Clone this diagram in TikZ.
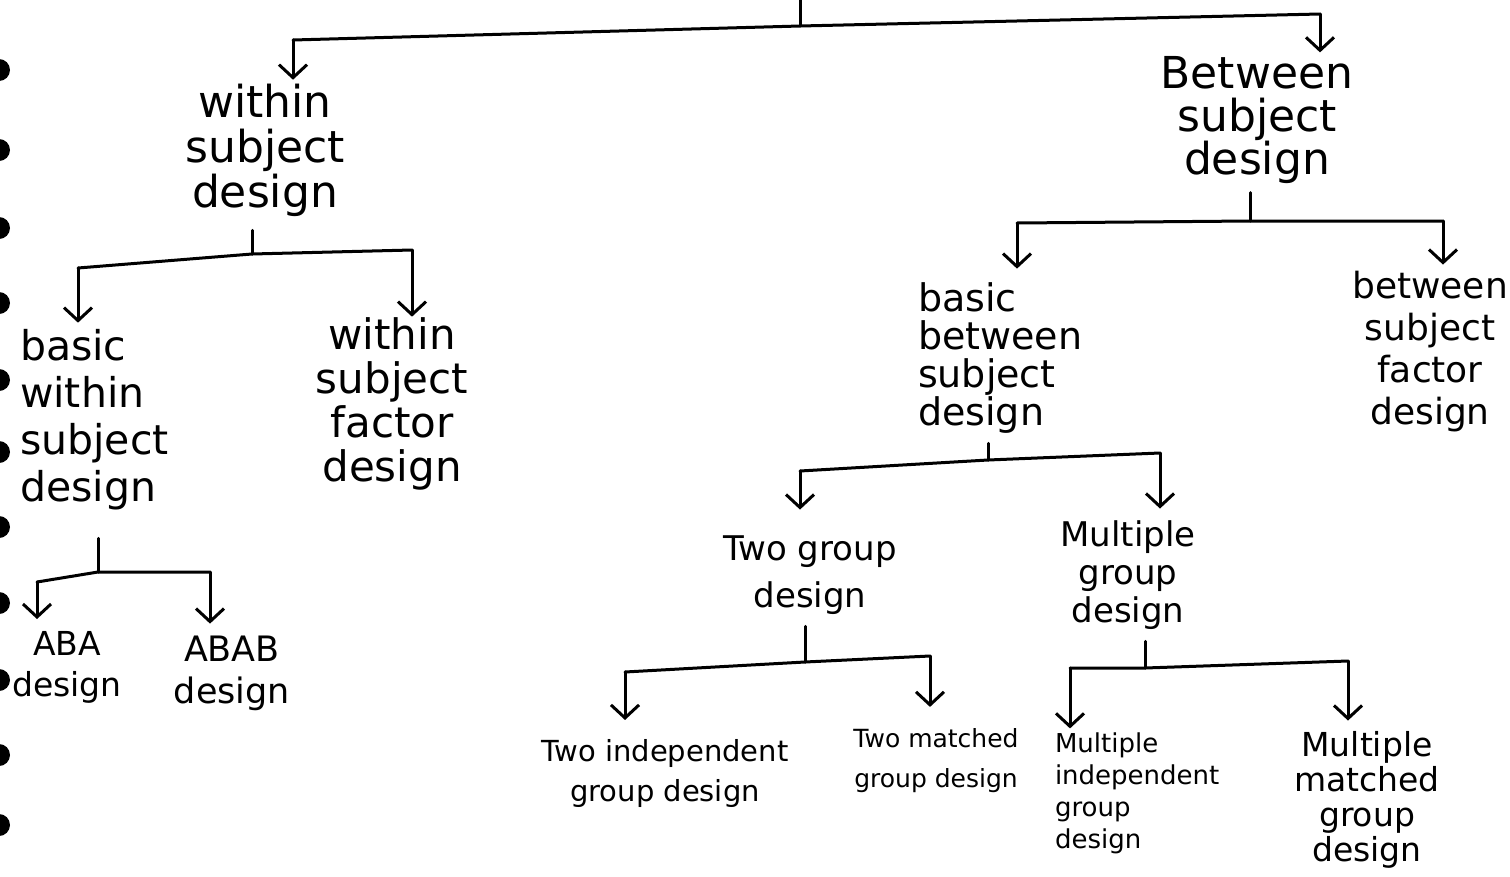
\documentclass[tikz,border=0pt]{standalone}
\usepackage{fontspec}
\setmainfont{DejaVu Sans}
\usetikzlibrary{arrows.meta}
\newcommand\setfs[2]{\fontsize{#1}{#2}\selectfont}
\begin{document}
\begin{tikzpicture}[x=1pt,y=-1pt,
  lbl/.style={align=center, inner sep=0pt, outer sep=0pt},
  lbll/.style={align=left, inner sep=0pt, outer sep=0pt},
  link/.style={line width=3pt, line cap=round, line join=round},
  arr/.style={link, shorten >=7pt, -{Straight Barb[length=13pt,width=28pt]}},
  hole/.style={fill=black}
]
\useasboundingbox (0,0) rectangle (1510,876);
% binding holes
\foreach \yy in {70,150,228,303,380,452,527,603,680,755,825}
  \fill[hole] (-1,\yy) circle (11);

% nodes
\node[lbl, font=\setfs{44}{45}] (ws) at (265,150) {within\\subject\\design};
\node[lbl, font=\setfs{44}{43}] (bs) at (1257,120) {Between\\subject\\design};
\node[lbll, font=\setfs{41}{47}, anchor=west] (bws) at (20,420) {basic\\within\\subject\\design};
\node[lbl, font=\setfs{42}{44}] (wsf) at (392,404) {within\\subject\\factor\\design};
\node[lbll, font=\setfs{38}{38}, anchor=west] (bbs) at (918,358) {basic\\between\\subject\\design};
\node[lbl, font=\setfs{36}{42}] (bsf) at (1430,352) {between\\subject\\factor\\design};
\node[lbl, font=\setfs{34}{47}] (tg) at (810,575) {Two group\\design};
\node[lbl, font=\setfs{34}{38}] (mg) at (1128,575) {Multiple\\group\\design};
\node[lbl, font=\setfs{33}{41}] (aba) at (67,667) {ABA\\design};
\node[lbl, font=\setfs{35}{42}] (abab) at (232,673) {ABAB\\design};
\node[lbl, font=\setfs{29}{40}] (tig) at (665,773) {Two independent\\group design};
\node[lbl, font=\setfs{25}{40}] (tmg) at (936,761) {Two matched\\group design};
\node[lbll, font=\setfs{26}{32}, anchor=west] (mig) at (1055,793) {Multiple\\independent\\group\\design};
\node[lbl, font=\setfs{33}{35}] (mmg) at (1367,800) {Multiple\\matched\\group\\design};

% junction coordinates
\coordinate (t0) at (800,0);
\coordinate (j0) at (800,26);
\coordinate (l0) at (293,40);
\coordinate (r0) at (1320,14);
\coordinate (j1) at (252,254);
\coordinate (l1) at (78,268);
\coordinate (r1) at (412,250);
\coordinate (j2) at (1250,221);
\coordinate (l2) at (1017,223);
\coordinate (r2) at (1443,221);
\coordinate (j3) at (988,460);
\coordinate (l3) at (800,471);
\coordinate (r3) at (1160,453);
\coordinate (j4) at (98,572);
\coordinate (l4) at (37,582);
\coordinate (r4) at (210,572);
\coordinate (j5) at (805,662);
\coordinate (l5) at (625,672);
\coordinate (r5) at (930,656);
\coordinate (j6) at (1145,668);
\coordinate (l6) at (1070,668);
\coordinate (r6) at (1348,661);

% top level
\draw[link] (t0) -- (j0);
\draw[link] (l0) -- (j0) -- (r0);
\draw[arr, shorten >=4pt] (l0) -- (l0 |- ws.north);
\draw[arr, shorten >=4pt] (r0) -- (r0 |- bs.north);

% within subject design
\draw[link, shorten <=14pt] (j1 |- ws.south) -- (j1);
\draw[link] (l1) -- (j1) -- (r1);
\draw[arr] (l1) -- (l1 |- bws.north);
\draw[arr, shorten >=1pt] (r1) -- (r1 |- wsf.north);

% between subject design
\draw[link, shorten <=9pt] (j2 |- bs.south) -- (j2);
\draw[link] (l2) -- (j2) -- (r2);
\draw[arr, shorten >=14pt] (l2) -- (l2 |- bbs.north);
\draw[arr] (r2) -- (r2 |- bsf.north);

% basic between subject design
\draw[link, shorten <=10pt] (j3 |- bbs.south) -- (j3);
\draw[link] (l3) -- (j3) -- (r3);
\draw[arr, shorten >=26pt] (l3) -- (l3 |- tg.north);
\draw[arr, shorten >=12pt] (r3) -- (r3 |- mg.north);

% basic within subject design
\draw[link, shorten <=28pt] (j4 |- bws.south) -- (j4);
\draw[link] (l4) -- (j4) -- (r4);
\draw[arr, shorten >=12pt] (l4) -- (l4 |- aba.north);
\draw[arr, shorten >=12pt] (r4) -- (r4 |- abab.north);

% two group design
\draw[link, shorten <=12pt] (j5 |- tg.south) -- (j5);
\draw[link] (l5) -- (j5) -- (r5);
\draw[arr, shorten >=19pt] (l5) -- (l5 |- tig.north);
\draw[arr, shorten >=22pt] (r5) -- (r5 |- tmg.north);

% multiple group design
\draw[link, shorten <=12pt] (j6 |- mg.south) -- (j6);
\draw[link] (l6) -- (j6) -- (r6);
\draw[arr, shorten >=4pt] (l6) -- (l6 |- mig.north);
\draw[arr, shorten >=11pt] (r6) -- (r6 |- mmg.north);
\end{tikzpicture}
\end{document}
